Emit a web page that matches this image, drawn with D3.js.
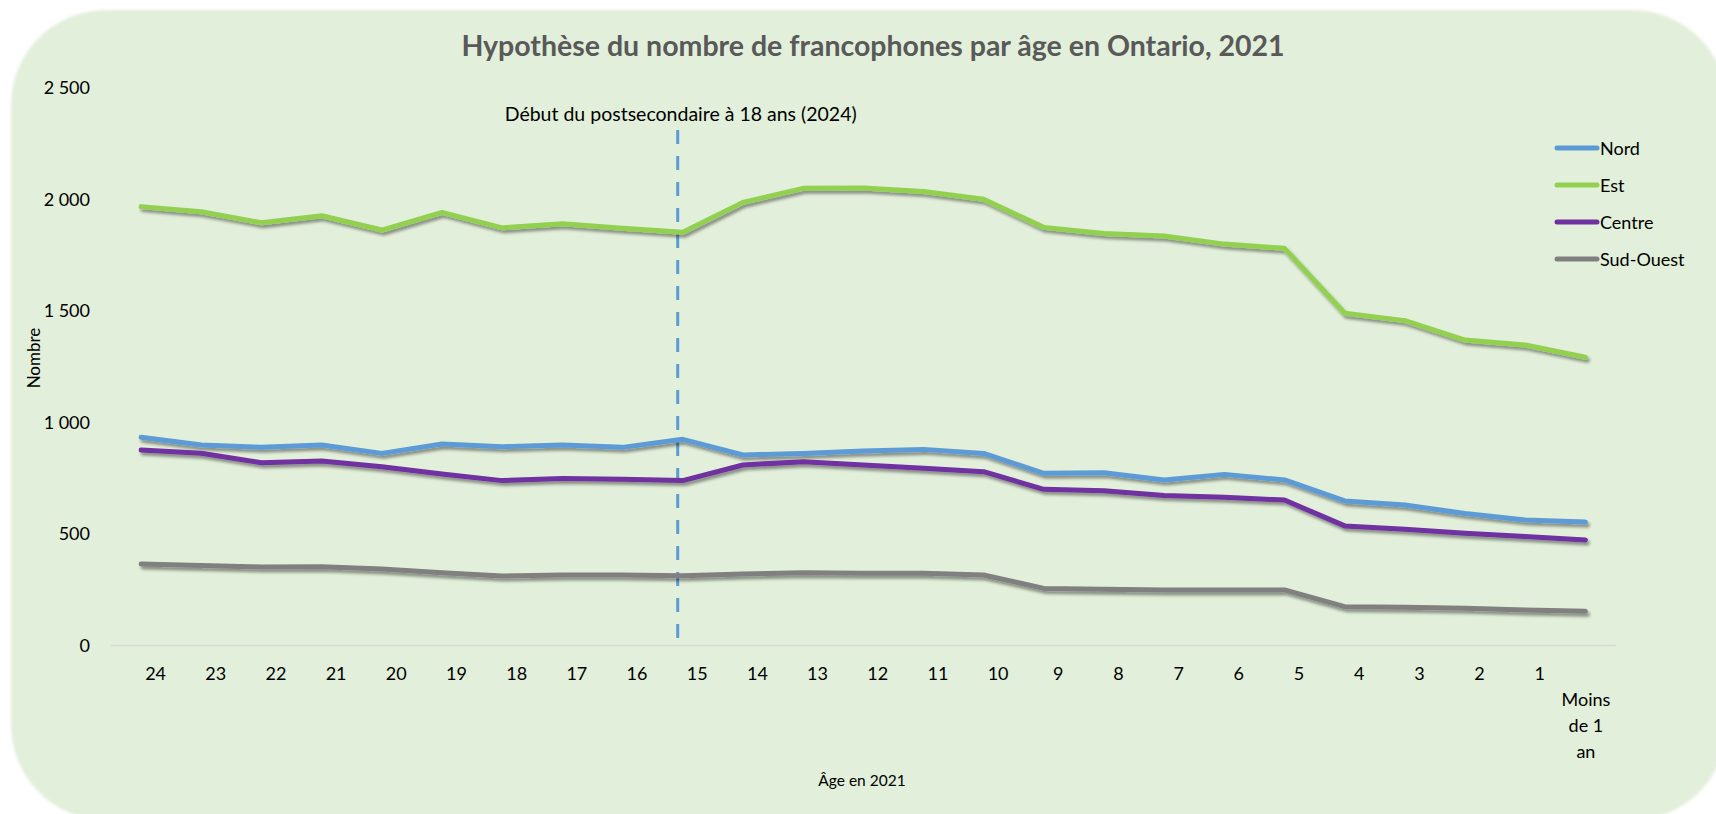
<html>
<head>
<meta charset="utf-8">
<script src="https://cdn.jsdelivr.net/npm/d3@7"></script>
<style>
  body { margin: 0; background: #ffffff; }
  text { font-family: Lato, "Open Sans", sans-serif; fill: #000; }
</style>
</head>
<body>
<svg width="1716" height="814"></svg>
<script>
// age categories, oldest first (as on the chart)
var ages = ["24", "23", "22", "21", "20", "19", "18", "17", "16", "15", "14", "13",
            "12", "11", "10", "9", "8", "7", "6", "5", "4", "3", "2", "1", "Moins de 1 an"];

// values
var nord = [933, 899, 888, 899, 861, 903, 891, 899, 888, 924, 854, 861,
            872, 879, 861, 772, 774, 742, 767, 742, 648, 630, 592, 562, 553];
var est = [1967, 1944, 1895, 1926, 1862, 1941, 1872, 1890, 1870, 1852, 1986, 2049,
           2050, 2035, 2000, 1874, 1847, 1835, 1799, 1780, 1489, 1456, 1369, 1347, 1292];
var centre = [876, 862, 819, 827, 801, 769, 739, 749, 745, 739, 809, 824,
              809, 794, 779, 700, 694, 672, 664, 652, 536, 521, 503, 488, 473];
var sudOuest = [365, 358, 352, 353, 343, 326, 311, 316, 316, 313, 320, 326,
                324, 324, 316, 256, 252, 249, 249, 249, 174, 171, 167, 159, 153];

var seriesNames = ["Nord", "Est", "Centre", "Sud-Ouest"];
var seriesColors = ["#5B9BD5", "#92D050", "#7030A0", "#808080"];
var yTicks = [0, 500, 1000, 1500, 2000, 2500];

var titleText = "Hypothèse du nombre de francophones par âge en Ontario, 2021";
var markerAge = "15";
var markerText = "Début du postsecondaire à 18 ans (2024)";

var svg = d3.select("svg");

// filters: soft card edge and line shadow
var defs = svg.append("defs");
defs.append("filter").attr("id", "soft")
    .attr("x", "-5%").attr("y", "-5%").attr("width", "110%").attr("height", "110%")
  .append("feGaussianBlur").attr("stdDeviation", 1.5);
defs.append("filter").attr("id", "shadow")
    .attr("x", "-5%").attr("y", "-20%").attr("width", "110%").attr("height", "140%")
  .append("feDropShadow")
    .attr("dx", 2).attr("dy", 3).attr("stdDeviation", 1.6)
    .attr("flood-color", "#000").attr("flood-opacity", 0.4);

// background card
svg.append("rect")
    .attr("x", 11).attr("y", 10)
    .attr("width", 1716).attr("height", 810)
    .attr("rx", 95).attr("ry", 95)
    .attr("fill", "#E2EFDA")
    .attr("filter", "url(#soft)");

// scales
var x = d3.scalePoint().domain(ages).range([111, 1615.5]).padding(0.5);
var y = d3.scaleLinear().domain([0, 2500]).range([645.5, 87.7]);

var fr = d3.formatLocale({decimal: ",", thousands: " ", grouping: [3], currency: ["", " $"]});
var fmt = fr.format(",d");

// title
svg.append("text")
    .attr("x", 873).attr("y", 45)
    .attr("text-anchor", "middle").attr("dominant-baseline", "central")
    .style("font-size", "28.5px").style("font-weight", "bold").style("fill", "#595959")
    .text(titleText);

// y axis (labels only)
var yAxis = d3.axisLeft(y).tickValues(yTicks).tickFormat(fmt).tickSize(0).tickPadding(0);
var yg = svg.append("g").attr("transform", "translate(90,0)").call(yAxis);
yg.select(".domain").remove();
yg.selectAll("text").style("font-size", "18px").style("font-family", "Lato, 'Open Sans', sans-serif").attr("fill", "#000");

// baseline at 0
svg.append("line")
    .attr("x1", x.range()[0]).attr("x2", x.range()[1])
    .attr("y1", y(0)).attr("y2", y(0))
    .attr("stroke", "#D9D9D9").attr("stroke-width", 1.5);

// x axis labels
var xAxis = d3.axisBottom(x).tickSize(0).tickPadding(0);
var xg = svg.append("g").attr("transform", "translate(0," + (y(0) + 27) + ")").call(xAxis);
xg.select(".domain").remove();
xg.selectAll("text")
    .style("font-size", "18px").style("font-family", "Lato, 'Open Sans', sans-serif")
    .attr("fill", "#000").attr("dy", null).attr("dominant-baseline", "central")
    .each(function(d) {
        var t = d3.select(this);
        if (d == "Moins de 1 an") {
            t.text(null);
            ["Moins", "de 1", "an"].forEach(function(w, i) {
                t.append("tspan").attr("x", 0).attr("y", 26 + i * 26).text(w);
            });
        } else {
            t.attr("x", 14);
        }
    });

// axis titles
svg.append("text")
    .attr("transform", "translate(33,358) rotate(-90)")
    .attr("text-anchor", "middle").attr("dominant-baseline", "central")
    .style("font-size", "17px")
    .text("Nombre");
svg.append("text")
    .attr("x", 862).attr("y", 780)
    .attr("text-anchor", "middle").attr("dominant-baseline", "central")
    .style("font-size", "15.5px")
    .text("Âge en 2021");

// dashed marker line + note
svg.append("line")
    .attr("x1", x(markerAge) - 5).attr("x2", x(markerAge) - 5)
    .attr("y1", 130).attr("y2", y(0) + 3)
    .attr("stroke", "#5B9BD5").attr("stroke-width", 3)
    .attr("stroke-dasharray", "14,12");
svg.append("text")
    .attr("x", x(markerAge) - 2).attr("y", 113)
    .attr("text-anchor", "middle").attr("dominant-baseline", "central")
    .style("font-size", "19.5px")
    .text(markerText);

// series lines
var allSeries = [nord, est, centre, sudOuest];
var line = d3.line()
    .x(function(d, i) { return x(ages[i]); })
    .y(function(d) { return y(d); });

svg.append("g").attr("filter", "url(#shadow)")
  .selectAll("path").data(allSeries).enter()
  .append("path")
    .attr("d", line)
    .attr("fill", "none")
    .attr("stroke", function(d, i) { return seriesColors[i]; })
    .attr("stroke-width", 5)
    .attr("stroke-linecap", "round")
    .attr("stroke-linejoin", "round");

// legend
var lg = svg.append("g").attr("transform", "translate(1557,148)");
seriesNames.forEach(function(name, i) {
    var row = lg.append("g").attr("transform", "translate(0," + (i * 37) + ")");
    row.append("line")
        .attr("x1", 0).attr("x2", 40).attr("y1", 0).attr("y2", 0)
        .attr("stroke", seriesColors[i]).attr("stroke-width", 5)
        .attr("stroke-linecap", "round");
    row.append("text")
        .attr("x", 43).attr("y", 0)
        .attr("dominant-baseline", "central")
        .style("font-size", "18px")
        .text(name);
});
</script>
</body>
</html>
